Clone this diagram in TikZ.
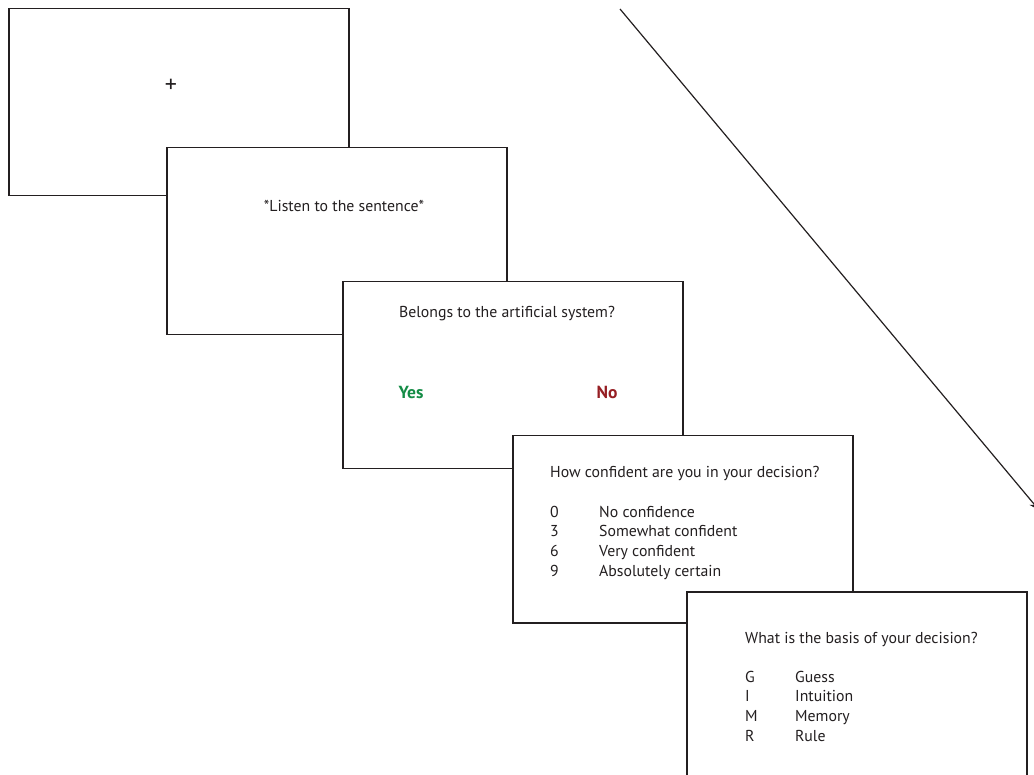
\documentclass[tikz,border=0pt]{standalone}
\usepackage{fontspec}
\setmainfont{PT Sans}
\usetikzlibrary{positioning}
\usetikzlibrary{arrows.meta}

\definecolor{inkgray}{RGB}{35,31,32}
\definecolor{yesgreen}{RGB}{20,140,70}
\definecolor{nored}{RGB}{150,30,35}

\tikzset{
  screen/.style={draw=inkgray, line width=1.5pt, fill=white, anchor=north west,
    minimum width=340pt, minimum height=187pt, inner sep=0pt},
  prompt/.style={text=inkgray, font=\fontsize{15.8}{18}\selectfont, inner sep=0pt, anchor=base},
  answer/.style={font=\fontsize{17.5}{20}\selectfont\bfseries, inner sep=0pt, anchor=base}
}

\begin{document}
\begin{tikzpicture}[x=1pt, y=-1pt]

\useasboundingbox (0,0) rectangle (1034,775);
\clip (0,0) rectangle (1034,775);

% time line
\coordinate (tstart) at (620,9);
\coordinate (tend) at (1039,510);
\draw[inkgray, line width=1.2pt, -{Stealth[length=10pt, width=8pt]}] (tstart) -- (tend);

% fixation
\node[screen] (fix) at (8,8) {};
\node[prompt, anchor=center, font=\fontsize{24}{26}\selectfont] (cross) at (171,86) {+};

% sentence
\node[screen] (listen) at (166,147) {};
\node[prompt] (listentext) at (344,212) {*Listen to the sentence*};

% grammaticality
\node[screen] (judge) at (342,281) {};
\node[prompt] (judgetext) at (507,318) {Belongs to the artificial system?};
\node[answer, text=yesgreen] (yes) at (411,399) {Yes};
\node[answer, text=nored] (no) at (607,399) {No};

% confidence
\node[screen] (conf) at (512,435) {};
\node[prompt, anchor=base west] (conftext) at (550,478) {How confident are you in your decision?};
\foreach \k/\t [count=\i] in {0/No confidence, 3/Somewhat confident, 6/Very confident, 9/Absolutely certain}{
  \node[prompt, anchor=base west] (confkey\i) at (550,497.5+19.7*\i) {\k};
  \node[prompt, anchor=base west] (conflabel\i) at (599,497.5+19.7*\i) {\t};
}

% source attribution
\node[screen] (basis) at (686,591) {};
\node[prompt, anchor=base west] (basistext) at (745,643) {What is the basis of your decision?};
\foreach \k/\t [count=\i] in {G/Guess, I/Intuition, M/Memory, R/Rule}{
  \node[prompt, anchor=base west] (basiskey\i) at (745,662.5+19.7*\i) {\k};
  \node[prompt, anchor=base west] (basislabel\i) at (795,662.5+19.7*\i) {\t};
}

\end{tikzpicture}
\end{document}
